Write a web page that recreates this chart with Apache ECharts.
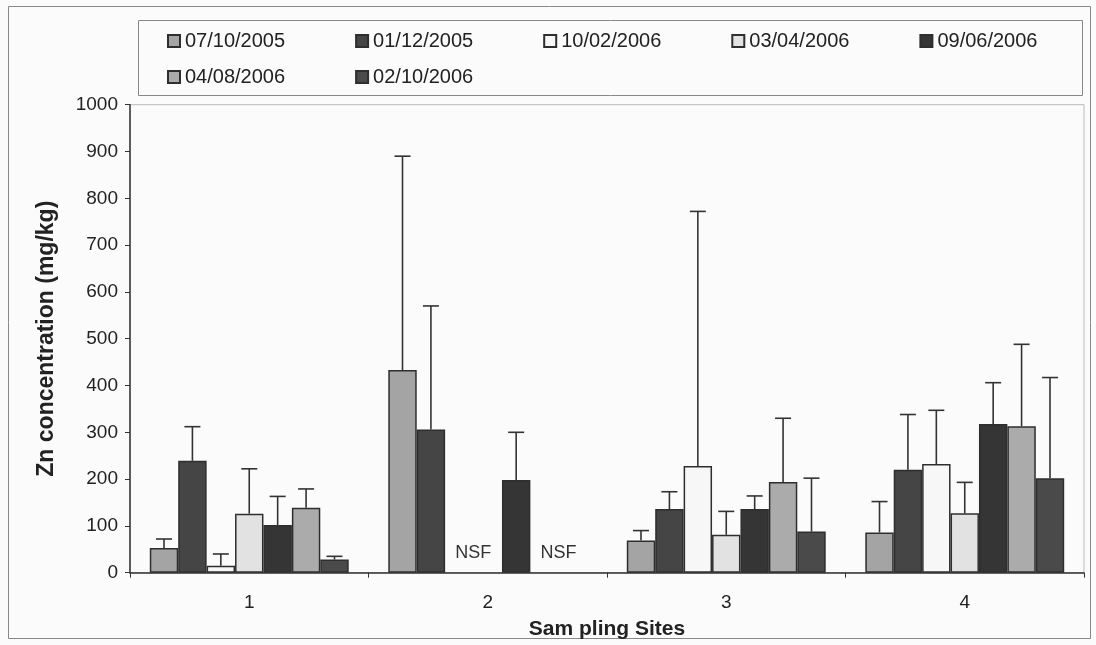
<!DOCTYPE html>
<html>
<head>
<meta charset="utf-8">
<script src="https://cdn.jsdelivr.net/npm/echarts@6/dist/echarts.min.js"></script>
<style>html,body{margin:0;padding:0;background:#fbfbfb;}#c{width:1096px;height:645px;}</style>
</head>
<body>
<div id="c"></div>
<script>
const sites = ['1', '2', '3', '4'];
const dates = ['07/10/2005', '01/12/2005', '10/02/2006', '03/04/2006', '09/06/2006', '04/08/2006', '02/10/2006'];
const yTicks = [0, 100, 200, 300, 400, 500, 600, 700, 800, 900, 1000];

// mean Zn concentration per sampling date, one value per site (null = no sample found)
const zn_07_10_2005 = [53, 433, 69, 86];
const zn_01_12_2005 = [239, 306, 136, 220];
const zn_10_02_2006 = [15, null, 228, 232];
const zn_03_04_2006 = [126, null, 81, 127];
const zn_09_06_2006 = [102, 198, 136, 318];
const zn_04_08_2006 = [139, null, 194, 313];
const zn_02_10_2006 = [28, null, 88, 202];

// upper error (standard deviation) per site
const sd_07_10_2005 = [19, 457, 21, 66];
const sd_01_12_2005 = [73, 264, 37, 118];
const sd_10_02_2006 = [25, null, 544, 115];
const sd_03_04_2006 = [96, null, 50, 66];
const sd_09_06_2006 = [61, 102, 28, 88];
const sd_04_08_2006 = [40, null, 136, 175];
const sd_02_10_2006 = [7, null, 114, 215];

// NSF markers: [series index, site index]
const nsfMarks = [[2, 1], [5, 1]];

const means = [zn_07_10_2005, zn_01_12_2005, zn_10_02_2006, zn_03_04_2006, zn_09_06_2006, zn_04_08_2006, zn_02_10_2006];
const sds = [sd_07_10_2005, sd_01_12_2005, sd_10_02_2006, sd_03_04_2006, sd_09_06_2006, sd_04_08_2006, sd_02_10_2006];
const colors = ['#a4a4a4', '#454545', '#f7f7f7', '#e2e2e2', '#353535', '#ababab', '#4a4a4a'];

const GAP = 0.166;
const FONT = '"Liberation Sans", Arial, sans-serif';

const series = [];
dates.forEach((d, i) => {
  const data = means[i].map((v, s) => {
    const isNsf = nsfMarks.some(m => m[0] === i && m[1] === s);
    if (isNsf) {
      return {
        value: 0,
        itemStyle: { borderWidth: 0 },
        label: { show: true, formatter: 'NSF', position: 'insideBottom', offset: [14, -6], color: '#333', fontSize: 18, fontFamily: FONT }
      };
    }
    return v;
  });
  series.push({
    name: d,
    type: 'bar',
    data: data,
    barGap: '0%',
    barCategoryGap: (GAP * 100) + '%',
    itemStyle: { color: colors[i], borderColor: '#2e2e2e', borderWidth: 1.5 },
    emphasis: { disabled: true },
    z: 2
  });
});

dates.forEach((d, i) => {
  const data = [];
  means[i].forEach((v, s) => {
    if (v != null && sds[i][s] != null) data.push([s, v, v + sds[i][s]]);
  });
  series.push({
    type: 'custom',
    data: data,
    encode: { x: 0, y: [1, 2] },
    z: 5,
    silent: true,
    renderItem: function (params, api) {
      const cat = api.value(0);
      const base = api.coord([cat, api.value(1)]);
      const top = api.coord([cat, api.value(2)]);
      const band = api.size([1, 0])[0];
      const groupW = band * (1 - GAP);
      const bw = groupW / 7;
      const x = base[0] - groupW / 2 + bw * (i + 0.5);
      const cap = 8;
      const st = { stroke: '#333', lineWidth: 1.6 };
      return {
        type: 'group',
        children: [
          { type: 'line', shape: { x1: x, y1: base[1], x2: x, y2: top[1] }, style: st },
          { type: 'line', shape: { x1: x - cap, y1: top[1], x2: x + cap, y2: top[1] }, style: st }
        ]
      };
    }
  });
});

const legendText = { fontSize: 20, color: '#222', fontFamily: FONT };
const chart = echarts.init(document.getElementById('c'), null, { renderer: 'canvas' });
chart.setOption({
  backgroundColor: '#fbfbfb',
  animation: false,
  graphic: [
    { type: 'rect', shape: { x: 8.5, y: 6.5, width: 1082, height: 632 }, style: { fill: 'none', stroke: '#888', lineWidth: 1 }, z: -1 },
    { type: 'rect', shape: { x: 138.5, y: 20.5, width: 944, height: 75 }, style: { fill: 'none', stroke: '#888', lineWidth: 1 }, z: -1 }
  ],
  legend: [
    {
      data: dates.slice(0, 5), left: 162, top: 26, itemWidth: 12, itemHeight: 12, itemGap: 70,
      icon: 'rect', textStyle: legendText, selectedMode: false
    },
    {
      data: dates.slice(5), left: 162, top: 62, itemWidth: 12, itemHeight: 12, itemGap: 70,
      icon: 'rect', textStyle: legendText, selectedMode: false
    }
  ],
  grid: { left: 130, right: 12, top: 104.7, bottom: 72.3, show: true, borderColor: '#bbb', borderWidth: 1, backgroundColor: 'transparent' },
  xAxis: {
    type: 'category',
    data: sites,
    name: 'Sam pling Sites',
    nameLocation: 'middle',
    nameGap: 46,
    nameTextStyle: { fontSize: 21, fontWeight: 'bold', color: '#222', fontFamily: FONT },
    axisLine: { lineStyle: { color: '#333', width: 1.5 } },
    axisTick: { show: true, length: 5, lineStyle: { color: '#333' } },
    axisLabel: { fontSize: 19, color: '#222', margin: 21, fontFamily: FONT },
    splitLine: { show: false }
  },
  yAxis: {
    type: 'value',
    min: yTicks[0],
    max: yTicks[yTicks.length - 1],
    interval: 100,
    name: 'Zn concentration (mg/kg)',
    nameLocation: 'middle',
    nameGap: 72,
    nameRotate: 90,
    nameTextStyle: { fontSize: 23, fontWeight: 'bold', color: '#222', fontFamily: FONT },
    axisLine: { show: true, lineStyle: { color: '#333', width: 1.5 } },
    axisTick: { show: true, length: 5, lineStyle: { color: '#333' } },
    axisLabel: { fontSize: 19, color: '#222', margin: 12, fontFamily: FONT, formatter: v => String(v) },
    splitLine: { show: false }
  },
  series: series
});
</script>
</body>
</html>
